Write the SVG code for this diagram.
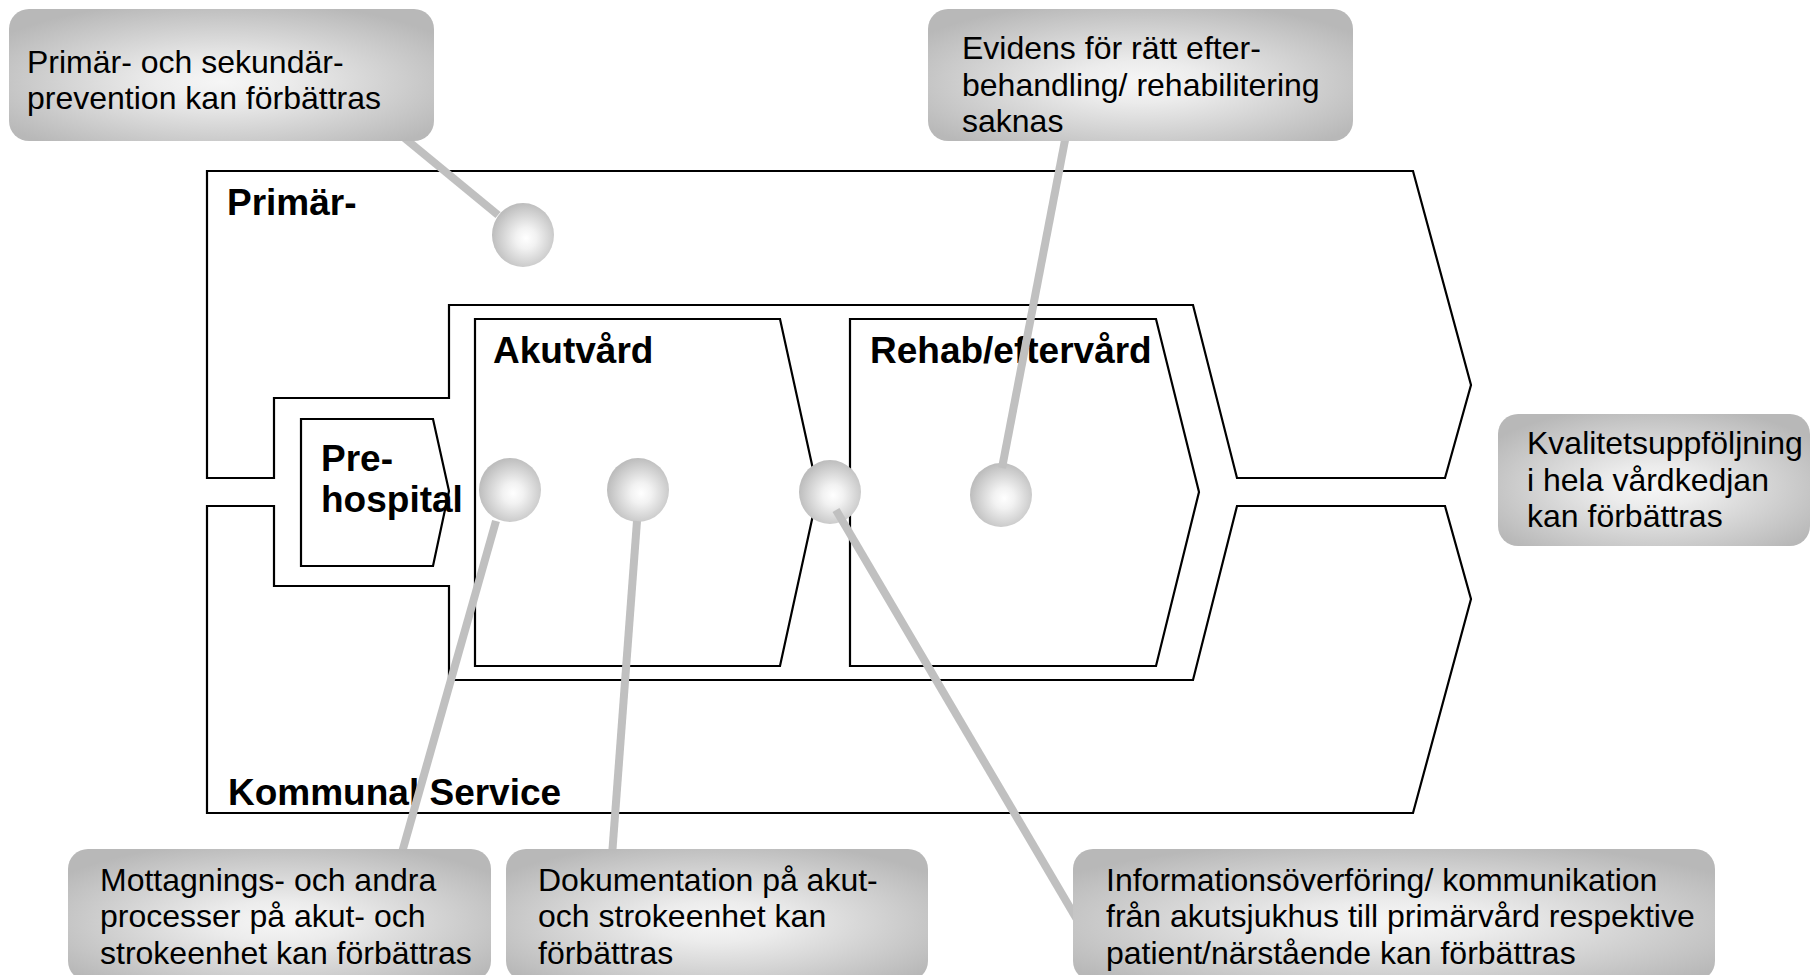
<svg xmlns="http://www.w3.org/2000/svg" width="1813" height="975" viewBox="0 0 1813 975">
  <style>
    .frame { fill: #ffffff; stroke: #000000; stroke-width: 2.2; stroke-linejoin: miter; }
    .label { font-family: "Liberation Sans", Arial, sans-serif; font-weight: bold; font-size: 37px; fill: #000000; }
    .note { fill: url(#noteFill); }
    .noteText { font-family: "Liberation Sans", Arial, sans-serif; font-size: 32px; fill: #000000; }
    .dot { fill: url(#dotFill); }
    .link { stroke: #c0c0c0; stroke-width: 8; stroke-linecap: butt; fill: none; }
  </style>
  <defs>
    <radialGradient id="noteFill" cx="0.5" cy="0.55" r="0.62">
      <stop offset="0" stop-color="#f6f6f6"/>
      <stop offset="0.25" stop-color="#ececec"/>
      <stop offset="1" stop-color="#b8b8b8"/>
    </radialGradient>
    <radialGradient id="dotFill" cx="0.55" cy="0.55" r="0.55">
      <stop offset="0" stop-color="#ffffff"/>
      <stop offset="0.3" stop-color="#f2f2f2"/>
      <stop offset="1" stop-color="#bdbdbd"/>
    </radialGradient>
  </defs>

  <!-- care chain frames -->
  <g id="primar">
    <polygon class="frame" points="207,171 1413,171 1471,385 1445,478 1237,478 1193,305 449,305 449,398 274,398 274,478 207,478"/>
    <text class="label" x="227" y="215">Primär-</text>
  </g>
  <g id="kommunal">
    <polygon class="frame" points="207,506 274,506 274,586 449,586 449,680 1193,680 1237,506 1445,506 1471,599 1413,813 207,813"/>
    <text class="label" x="228" y="805">Kommunal Service</text>
  </g>
  <g id="prehospital">
    <polygon class="frame" points="301,419 433,419 449,491 433,566 301,566"/>
    <text class="label" x="321" y="471">Pre-</text>
    <text class="label" x="321" y="512">hospital</text>
  </g>
  <g id="akutvard">
    <polygon class="frame" points="475,319 780,319 818,492 780,666 475,666"/>
    <text class="label" x="493" y="363">Akutvård</text>
  </g>
  <g id="rehab">
    <polygon class="frame" points="850,319 1156,319 1199,492 1156,666 850,666"/>
    <text class="label" x="870" y="363">Rehab/eftervård</text>
  </g>

  <!-- problem markers -->
  <g id="markers">
    <ellipse id="m-prevention" class="dot" cx="523" cy="235" rx="31" ry="32"/>
    <ellipse id="m-mottagning" class="dot" cx="510" cy="490" rx="31" ry="32"/>
    <ellipse id="m-dokumentation" class="dot" cx="638" cy="490" rx="31" ry="32"/>
    <ellipse id="m-information" class="dot" cx="830" cy="492" rx="31" ry="32"/>
    <ellipse id="m-evidens" class="dot" cx="1001" cy="495" rx="31" ry="32"/>
  </g>

  <!-- connectors from markers to notes -->
  <g id="connectors">
    <line class="link" x1="402" y1="136" x2="498" y2="215"/>
    <line class="link" x1="1066" y1="135" x2="1002" y2="468"/>
    <line class="link" x1="401" y1="856" x2="496" y2="521"/>
    <line class="link" x1="612" y1="856" x2="637" y2="521"/>
    <line class="link" x1="836" y1="510" x2="1082" y2="928"/>
  </g>

  <!-- notes -->
  <g id="note-prevention">
    <rect class="note" x="9" y="9" width="425" height="132" rx="20"/>
    <text class="noteText" x="27" y="73">Primär- och sekundär-</text>
    <text class="noteText" x="27" y="109">prevention kan förbättras</text>
  </g>
  <g id="note-evidens">
    <rect class="note" x="928" y="9" width="425" height="132" rx="20"/>
    <text class="noteText" x="962" y="59">Evidens för rätt efter-</text>
    <text class="noteText" x="962" y="96">behandling/ rehabilitering</text>
    <text class="noteText" x="962" y="132">saknas</text>
  </g>
  <g id="note-kvalitet">
    <rect class="note" x="1498" y="414" width="312" height="132" rx="20"/>
    <text class="noteText" x="1527" y="454">Kvalitetsuppföljning</text>
    <text class="noteText" x="1527" y="491">i hela vårdkedjan</text>
    <text class="noteText" x="1527" y="527">kan förbättras</text>
  </g>
  <g id="note-mottagning">
    <rect class="note" x="68" y="849" width="423" height="132" rx="20"/>
    <text class="noteText" x="100" y="891">Mottagnings- och andra</text>
    <text class="noteText" x="100" y="927">processer på akut- och</text>
    <text class="noteText" x="100" y="964">strokeenhet kan förbättras</text>
  </g>
  <g id="note-dokumentation">
    <rect class="note" x="506" y="849" width="422" height="132" rx="20"/>
    <text class="noteText" x="538" y="891">Dokumentation på akut-</text>
    <text class="noteText" x="538" y="927">och strokeenhet kan</text>
    <text class="noteText" x="538" y="964">förbättras</text>
  </g>
  <g id="note-information">
    <rect class="note" x="1073" y="849" width="642" height="132" rx="20"/>
    <text class="noteText" x="1106" y="891">Informationsöverföring/ kommunikation</text>
    <text class="noteText" x="1106" y="927">från akutsjukhus till primärvård respektive</text>
    <text class="noteText" x="1106" y="964">patient/närstående kan förbättras</text>
  </g>
</svg>
